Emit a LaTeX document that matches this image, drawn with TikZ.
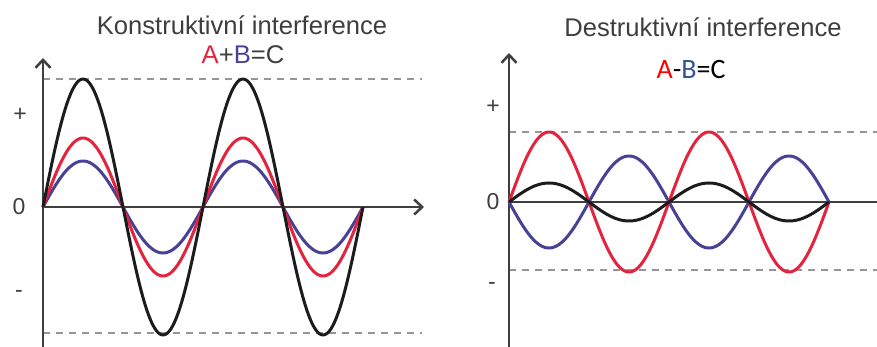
\documentclass[tikz,border=0pt]{standalone}
\usepackage{fontspec}
\setmainfont{Liberation Sans}
\newfontfamily\calibrifont{Carlito}
\usetikzlibrary{arrows.meta}
\definecolor{wred}{RGB}{228,36,62}
\definecolor{wblue}{RGB}{72,66,150}
\definecolor{wblack}{RGB}{28,28,28}
\definecolor{wgray}{RGB}{62,62,62}
\definecolor{wdash}{RGB}{150,150,150}
\definecolor{ored}{RGB}{255,0,0}
\definecolor{oblue}{RGB}{47,85,151}

\begin{document}
\begin{tikzpicture}[x=1pt, y=-1pt,
  axis/.style={draw=wgray, line width=2.5pt, -{Straight Barb[length=8pt,width=15pt]}},
  level/.style={draw=wdash, line width=1.4pt, dash pattern=on 7pt off 6pt},
  wave/.style={draw=#1, line width=3pt, line join=round},
  signlabel/.style={text=wgray, font=\fontsize{23}{25}\selectfont},
  title/.style={text=wgray, font=\fontsize{25.6}{28}\selectfont}
]
  \useasboundingbox (0,0) rectangle (877,347);

  % constructive
  \coordinate (ko) at (43,207);
  \coordinate (kx) at (424,207);
  \coordinate (ky) at (43,58);
  \coordinate (kb) at (43,347);
  \draw[level] (43,79) -- (422,79);
  \draw[level] (43,333) -- (422,333);
  \draw[axis] (kb) -- (ky);
  \draw[axis] (ko) -- (kx);
  \foreach \amp/\col in {46/wblue, 69/wred, 128/wblack}
    \draw[wave=\col] plot[domain=0:320, samples=161, smooth] ({43+\x}, {207-\amp*sin(2.25*\x)});
  \node[signlabel] (kplus)  at (20,115) {+};
  \node[signlabel] (kzero)  at (19,207) {0};
  \node[signlabel] (kminus) at (19,294) {-};
  \node[title] (ktitle) at (242,25) {Konstruktivní interference};
  \node[title] (keq) at (243,55) {\textcolor{wred}{A}+\textcolor{wblue}{B}=C};

  % destructive
  \coordinate (do) at (509,202);
  \coordinate (dx) at (877,202);
  \coordinate (dy) at (509,53);
  \coordinate (db) at (509,347);
  \draw[level] (509,132) -- (877,132);
  \draw[level] (509,270) -- (877,270);
  \draw[axis] (db) -- (dy);
  \draw[draw=wgray, line width=2.5pt] (do) -- (dx);
  \foreach \amp/\col in {-46/wblue, 70/wred, 19/wblack}
    \draw[wave=\col] plot[domain=0:320, samples=161, smooth] ({509+\x}, {202-\amp*sin(2.25*\x)});
  \node[signlabel] (dplus)  at (493,107) {+};
  \node[signlabel] (dzero)  at (493,202) {0};
  \node[signlabel] (dminus) at (492,286) {-};
  \node[title] (dtitle) at (703,27) {Destruktivní interference};
  \node[font=\calibrifont\fontsize{28}{30}\selectfont] (deq) at (691,70)
    {\textcolor{ored}{A}-\textcolor{oblue}{B}=C};
\end{tikzpicture}
\end{document}
